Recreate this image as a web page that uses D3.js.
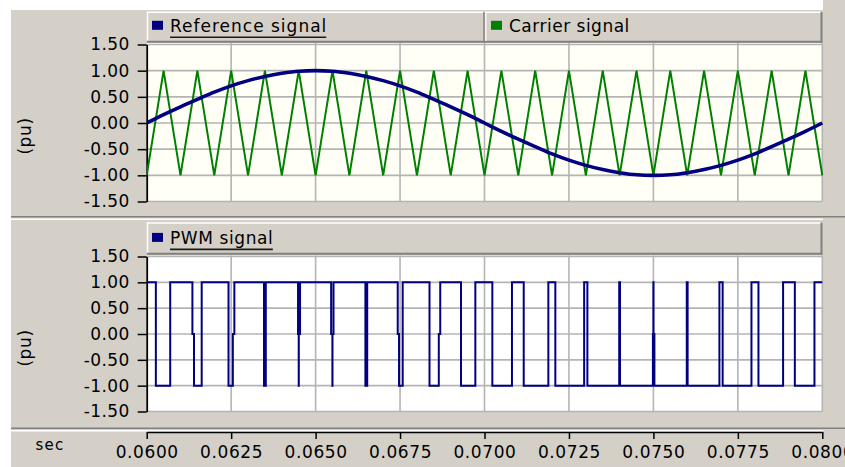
<!DOCTYPE html>
<html>
<head>
<meta charset="utf-8">
<script src="https://cdn.jsdelivr.net/npm/d3@7"></script>
<style>
  html, body { margin: 0; padding: 0; background: #ffffff; }
  svg { display: block; font-family: "DejaVu Sans", "Liberation Sans", sans-serif; }
</style>
</head>
<body>
<svg id="chart" width="845" height="467"></svg>
<script>
// ---- data -------------------------------------------------------------
// sample instants (s) shared by the reference and carrier traces
const sampleTime = [
  0.0600, 0.0605, 0.0610, 0.0615, 0.0620, 0.0625, 0.0630, 0.0635, 0.0640, 0.0645,
  0.0650, 0.0655, 0.0660, 0.0665, 0.0670, 0.0675, 0.0680, 0.0685, 0.0690, 0.0695,
  0.0700, 0.0705, 0.0710, 0.0715, 0.0720, 0.0725, 0.0730, 0.0735, 0.0740, 0.0745,
  0.0750, 0.0755, 0.0760, 0.0765, 0.0770, 0.0775, 0.0780, 0.0785, 0.0790, 0.0795,
  0.0800
];
// 50 Hz reference (pu)
const referenceValues = [
  0.00, 0.16, 0.31, 0.45, 0.59, 0.71, 0.81, 0.89, 0.95, 0.99,
  1.00, 0.99, 0.95, 0.89, 0.81, 0.71, 0.59, 0.45, 0.31, 0.16,
  0.00, -0.16, -0.31, -0.45, -0.59, -0.71, -0.81, -0.89, -0.95, -0.99,
  -1.00, -0.99, -0.95, -0.89, -0.81, -0.71, -0.59, -0.45, -0.31, -0.16,
  0.00
];
// triangular carrier (pu), vertices at the same instants
const carrierValues = [
  -1, 1, -1, 1, -1, 1, -1, 1, -1, 1,
  -1, 1, -1, 1, -1, 1, -1, 1, -1, 1,
  -1, 1, -1, 1, -1, 1, -1, 1, -1, 1,
  -1, 1, -1, 1, -1, 1, -1, 1, -1, 1,
  -1
];
// comparator output: level held from each switching instant to the next
const pwmTime = [
  0.060000, 0.060271, 0.060696, 0.061353, 0.061400, 0.061628, 0.062422, 0.062550,
  0.062595, 0.063472, 0.063526, 0.064480, 0.064500, 0.064503, 0.064540, 0.065460,
  0.065497, 0.065500, 0.065530, 0.066474, 0.066528, 0.067431, 0.067470, 0.067578,
  0.068372, 0.068647, 0.068690, 0.069304, 0.069729, 0.070232, 0.070813, 0.071161,
  0.071890, 0.072097, 0.072950, 0.073046, 0.073988, 0.074012, 0.074985, 0.075000,
  0.075003, 0.075030, 0.075988, 0.076013, 0.076954, 0.077050, 0.077903, 0.078110,
  0.078839, 0.079187, 0.079768, 0.080000
];
const pwmValues = [
  1, -1, 1, 0, -1, 1, -1, 0,
  1, -1, 1, 0, -1, 0, 1, 0,
  -1, 0, 1, -1, 1, 0, -1, 1,
  -1, 0, 1, -1, 1, -1, 1, -1,
  1, -1, 1, -1, 1, -1, 0, 1,
  0, -1, 1, -1, 1, -1, 1, -1,
  1, -1, 1, 1
];
const timeTicks  = [0.0600, 0.0625, 0.0650, 0.0675, 0.0700, 0.0725, 0.0750, 0.0775, 0.0800];
const timeLabels = ["0.0600", "0.0625", "0.0650", "0.0675", "0.0700", "0.0725", "0.0750", "0.0775", "0.0800"];
const puTicks  = [-1.5, -1.0, -0.5, 0.0, 0.5, 1.0, 1.5];
const puLabels = ["-1.50", "-1.00", "-0.50", "0.00", "0.50", "1.00", "1.50"];

// ---- styling ----------------------------------------------------------
const GRAY = "#d4d0c8", DARK = "#808080", NAVY = "#000080", GREEN = "#008000";
const GRID = "#b4b4b4";
const FONT = 17;

const svg = d3.select("#chart");
const W = 845, H = 467;
const plotL = 146.7, plotR = 822.3;

// window background
svg.append("rect").attr("width", W).attr("height", H).attr("fill", "#ffffff");
svg.append("rect").attr("x", 11).attr("y", 10).attr("width", W - 11).attr("height", H - 10).attr("fill", GRAY);
svg.append("rect").attr("x", 823).attr("y", 0).attr("width", W - 823).attr("height", H).attr("fill", GRAY);

// panel separators
function separator(y) {
  svg.append("line").attr("x1", 11).attr("x2", W).attr("y1", y).attr("y2", y)
    .attr("stroke", DARK).attr("stroke-width", 1.5);
  svg.append("line").attr("x1", 11).attr("x2", 823).attr("y1", y + 2.5).attr("y2", y + 2.5)
    .attr("stroke", "#ffffff").attr("stroke-width", 1.5);
}
separator(216.8);
separator(428.3);

const x = d3.scaleLinear().domain([0.06, 0.08]).range([plotL, plotR]);

const panels = [
  { key: "top", y: d3.scaleLinear().domain([-1.5, 1.5]).range([201.5, 44.5]),
    bgTop: 43, bgBottom: 201.5, bg: "#fffff5", legendTop: 11.8, legendBottom: 42.6, labelY: 136 },
  { key: "bottom", y: d3.scaleLinear().domain([-1.5, 1.5]).range([411.5, 256.5]),
    bgTop: 255.5, bgBottom: 411.5, bg: "#ffffff", legendTop: 222.4, legendBottom: 254.6, labelY: 348 }
];

panels.forEach(p => {
  const g = svg.append("g");
  // plot background
  g.append("rect").attr("x", plotL).attr("y", p.bgTop)
    .attr("width", plotR - plotL).attr("height", p.bgBottom - p.bgTop).attr("fill", p.bg);

  // grid
  g.append("g").selectAll("line").data(puTicks).join("line")
    .attr("x1", plotL).attr("x2", plotR)
    .attr("y1", d => p.y(d)).attr("y2", d => p.y(d))
    .attr("stroke", GRID).attr("stroke-width", 1.6);
  g.append("g").selectAll("line").data(timeTicks.slice(1)).join("line")
    .attr("x1", d => x(d)).attr("x2", d => x(d))
    .attr("y1", p.bgTop).attr("y2", p.bgBottom)
    .attr("stroke", GRID).attr("stroke-width", 1.6);

  // clip for traces
  g.append("clipPath").attr("id", "clip-" + p.key)
    .append("rect").attr("x", plotL).attr("y", p.bgTop - 4)
    .attr("width", plotR - plotL + 1).attr("height", p.bgBottom - p.bgTop + 8);

  // y axis
  const axis = d3.axisLeft(p.y).tickValues(puTicks)
    .tickFormat((d, i) => puLabels[i]).tickSize(9).tickSizeOuter(0).tickPadding(8);
  const ag = g.append("g").attr("transform", `translate(${plotL},0)`).call(axis);
  ag.select(".domain").attr("stroke", "#000").attr("stroke-width", 1.8);
  ag.selectAll(".tick line").attr("stroke", "#000").attr("stroke-width", 1.5);
  ag.selectAll(".tick text").attr("font-size", FONT).attr("fill", "#000")
    .attr("font-family", "DejaVu Sans, sans-serif").attr("letter-spacing", 0.4);

  // unit label
  g.append("text").attr("transform", `translate(25,${p.labelY}) rotate(-90)`)
    .attr("text-anchor", "middle").attr("dominant-baseline", "central")
    .attr("font-size", FONT).attr("letter-spacing", 0.6).attr("fill", "#000").text("(pu)");

  // legend bar
  const lt = p.legendTop, lb = p.legendBottom;
  g.append("rect").attr("x", plotL).attr("y", lt).attr("width", plotR - plotL).attr("height", lb - lt).attr("fill", GRAY);
  g.append("line").attr("x1", plotL).attr("x2", plotR).attr("y1", lt + 0.5).attr("y2", lt + 0.5).attr("stroke", "#fff").attr("stroke-width", 1.5);
  g.append("line").attr("x1", plotL + 0.8).attr("x2", plotL + 0.8).attr("y1", lt).attr("y2", lb).attr("stroke", "#fff").attr("stroke-width", 1.5);
  g.append("line").attr("x1", plotL).attr("x2", plotR).attr("y1", lb - 0.8).attr("y2", lb - 0.8).attr("stroke", DARK).attr("stroke-width", 2);
  g.append("line").attr("x1", plotR - 0.8).attr("x2", plotR - 0.8).attr("y1", lt).attr("y2", lb).attr("stroke", DARK).attr("stroke-width", 2);
  p.legend = g;
});

// legend entries
function legendEntry(g, x0, top, label, color, underline, spacing) {
  g.append("rect").attr("x", x0).attr("y", top + 9).attr("width", 11).attr("height", 9).attr("fill", color);
  const t = g.append("text").attr("x", x0 + 18).attr("y", top + 20).attr("font-size", FONT)
    .attr("letter-spacing", spacing).attr("fill", "#000").text(label);
  if (underline) {
    const len = t.node().getComputedTextLength();
    g.append("line").attr("x1", x0 + 18).attr("x2", x0 + 18 + len - spacing)
      .attr("y1", top + 25.5).attr("y2", top + 25.5).attr("stroke", "#1a1a1a").attr("stroke-width", 1.6);
  }
}
const topP = panels[0], botP = panels[1];
legendEntry(topP.legend, 152, topP.legendTop, "Reference signal", NAVY, true, 1.0);
topP.legend.append("line").attr("x1", 484).attr("x2", 484).attr("y1", topP.legendTop).attr("y2", topP.legendBottom).attr("stroke", DARK).attr("stroke-width", 1.5);
topP.legend.append("line").attr("x1", 485.8).attr("x2", 485.8).attr("y1", topP.legendTop).attr("y2", topP.legendBottom - 1.5).attr("stroke", "#fff").attr("stroke-width", 1.2);
legendEntry(topP.legend, 491, topP.legendTop, "Carrier signal", GREEN, false, 0.5);
legendEntry(botP.legend, 152, botP.legendTop + 1.5, "PWM signal", NAVY, true, 0.6);

// traces
const refPts = sampleTime.map((t, i) => [t, referenceValues[i]]);
const carPts = sampleTime.map((t, i) => [t, carrierValues[i]]);
const pwmPts = pwmTime.map((t, i) => [t, pwmValues[i]]);

svg.append("path").datum(carPts)
  .attr("clip-path", "url(#clip-top)")
  .attr("fill", "none").attr("stroke", GREEN).attr("stroke-width", 2)
  .attr("stroke-linejoin", "miter")
  .attr("d", d3.line().x(d => x(d[0])).y(d => topP.y(d[1])));

svg.append("path").datum(refPts)
  .attr("clip-path", "url(#clip-top)")
  .attr("fill", "none").attr("stroke", NAVY).attr("stroke-width", 3.6)
  .attr("d", d3.line().curve(d3.curveMonotoneX).x(d => x(d[0])).y(d => topP.y(d[1])));

svg.append("path").datum(pwmPts)
  .attr("clip-path", "url(#clip-bottom)")
  .attr("fill", "none").attr("stroke", NAVY).attr("stroke-width", 2)
  .attr("d", d3.line().curve(d3.curveStepAfter).x(d => x(d[0])).y(d => botP.y(d[1])));

// time axis
const xAxis = d3.axisBottom(x).tickValues(timeTicks)
  .tickFormat((d, i) => timeLabels[i]).tickSize(7).tickSizeOuter(0);
const xg = svg.append("g").attr("transform", "translate(0,432)").call(xAxis);
xg.select(".domain").attr("stroke", "#000").attr("stroke-width", 1.5);
xg.selectAll(".tick line").attr("stroke", "#000").attr("stroke-width", 1.5);
xg.selectAll(".tick text").attr("font-size", FONT).attr("fill", "#000")
  .attr("font-family", "DejaVu Sans, sans-serif").attr("letter-spacing", 0.6)
  .attr("dy", null).attr("y", 26);

svg.append("text").attr("x", 50).attr("y", 450).attr("text-anchor", "middle")
  .attr("font-size", 15).attr("letter-spacing", 1.2).attr("fill", "#000").text("sec");
</script>
</body>
</html>
